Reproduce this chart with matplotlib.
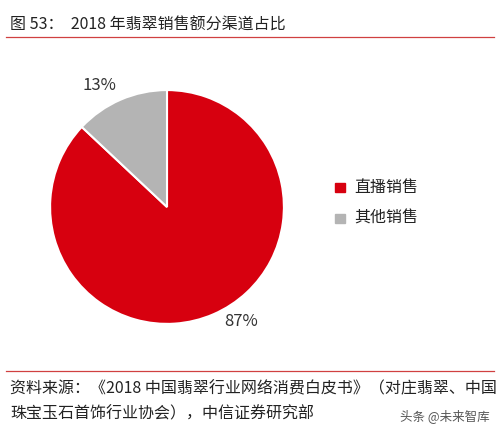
import matplotlib.pyplot as plt
from matplotlib.lines import Line2D

plt.rcParams['font.family'] = ['Noto Sans CJK SC', 'DejaVu Sans']

channels = ['直播销售', '其他销售']
shares = [87, 13]
colors = ['#D7000F', '#B4B4B4']

fig = plt.figure(figsize=(5, 4.33), dpi=100)

# pie axes: center ~(167,207) px, radius ~117 px
ax = fig.add_axes([0.334 - 0.234, 0.522 - 0.270, 0.468, 0.540])
wedges, _ = ax.pie(shares, colors=colors, startangle=90, counterclock=False,
                   wedgeprops=dict(edgecolor='white', linewidth=1.5))
ax.set_aspect('equal')
ax.set_xlim(-1, 1)
ax.set_ylim(-1, 1)

fig.text(99 / 500, 1 - 86 / 433, f'{shares[1]}%', fontsize=12, ha='center', va='center', color='#333333')
fig.text(241 / 500, 1 - 321 / 433, f'{shares[0]}%', fontsize=12, ha='center', va='center', color='#333333')

# legend
for i, (name, c) in enumerate(zip(channels, colors)):
    y = 1 - (187 + 31 * i) / 433
    fig.patches.append(plt.Rectangle((335 / 500, y - 0.012), 0.019, 0.022, color=c,
                                     transform=fig.transFigure, figure=fig))
    fig.text(354 / 500, y, name, fontsize=11.5, va='center', color='#222222')

# title and rules
fig.text(10 / 500, 1 - 25 / 433, '图 53：  2018 年翡翠销售额分渠道占比', fontsize=11.5,
         va='center', color='#222222')
fig.add_artist(Line2D([6 / 500, 494 / 500], [1 - 37 / 433] * 2, color='#D04040', lw=0.9))
fig.add_artist(Line2D([6 / 500, 494 / 500], [1 - 371 / 433] * 2, color='#D04040', lw=0.9))

fig.text(10 / 500, 1 - 389 / 433, '资料来源：《2018 中国翡翠行业网络消费白皮书》（对庄翡翠、中国',
         fontsize=11.5, va='center', color='#222222')
fig.text(10 / 500, 1 - 414 / 433, '珠宝玉石首饰行业协会），中信证券研究部',
         fontsize=11.5, va='center', color='#222222')
fig.text(490 / 500, 1 - 416 / 433, '头条 @未来智库', fontsize=9, ha='right', va='center', color='#555555')

fig.savefig('out.png', dpi=100)
